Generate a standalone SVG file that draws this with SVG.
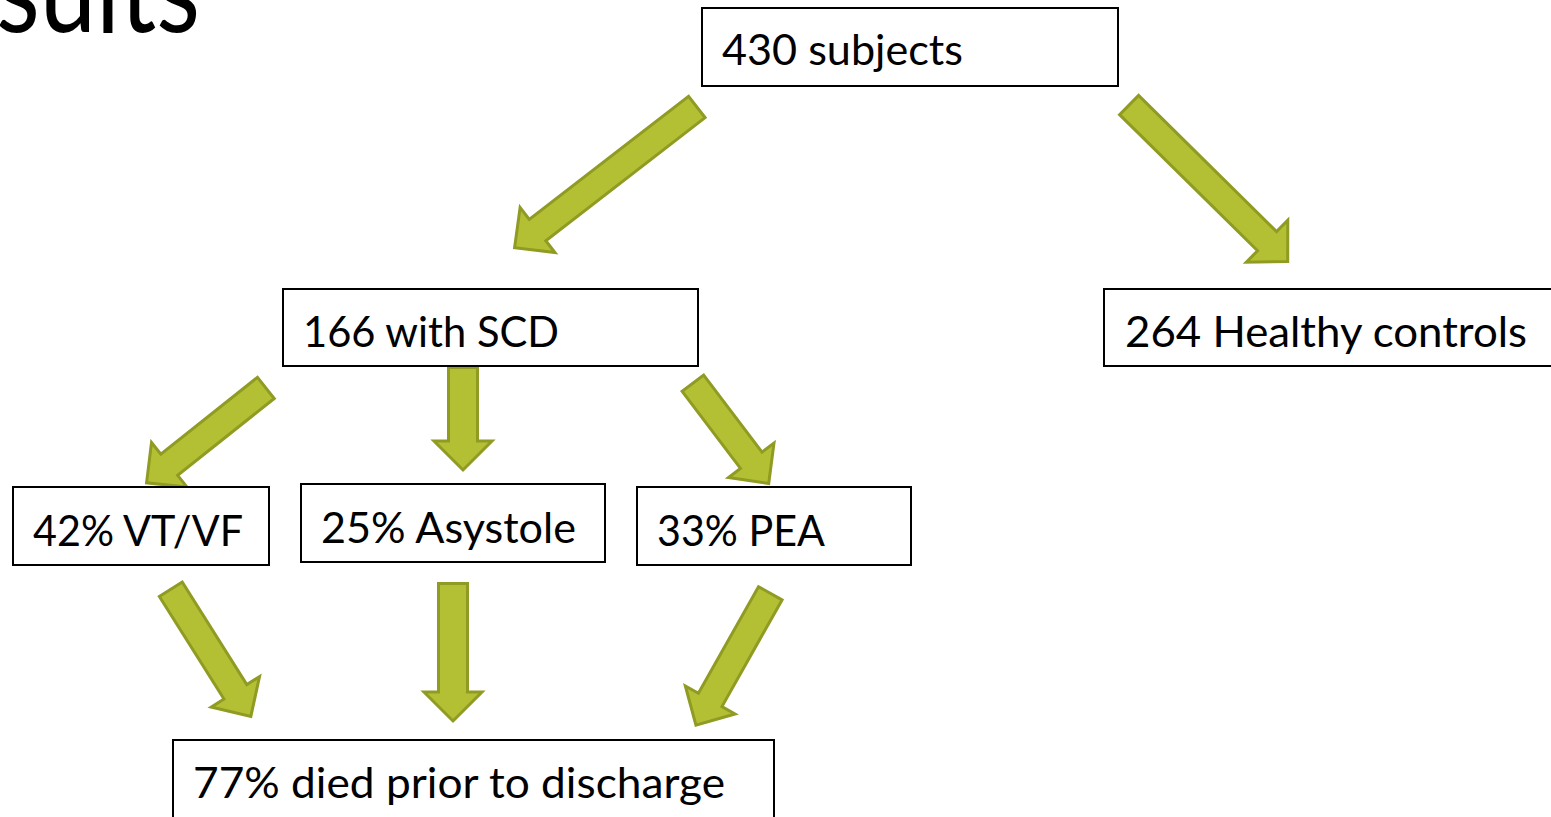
<svg xmlns="http://www.w3.org/2000/svg" width="1551" height="817" viewBox="0 0 1551 817">
<style>
.box{fill:#fff;stroke:#000;stroke-width:2}
.lbl{font-family:Lato,"Liberation Sans",sans-serif;font-size:43px;fill:#000}
.title{font-family:Lato,"Liberation Sans",sans-serif;font-size:120px;fill:#000}
.arr{fill:#b4c034;stroke:#8f9b22;stroke-width:3;stroke-linejoin:miter}
</style>
<rect width="1551" height="817" fill="#fff"/>
<text class="title" x="-4" y="32" textLength="204" lengthAdjust="spacingAndGlyphs">sults</text>
<g id="connectors">
<path class="arr" transform="translate(698,106) rotate(142.3)" d="M1.5,-13.5 H202.8 V-28.5 L231.8,0 L202.8,28.5 V13.5 H1.5 Z"/>
<path class="arr" transform="translate(1128,104) rotate(44.6)" d="M1.5,-13.5 H195.3 V-29.5 L224.3,0 L195.3,29.5 V13.5 H1.5 Z"/>
<path class="arr" transform="translate(267,387) rotate(141.5)" d="M1.5,-13.5 H124.9 V-28.5 L153.9,0 L124.9,28.5 V13.5 H1.5 Z"/>
<path class="arr" transform="translate(463,366) rotate(90)" d="M1.5,-14.5 H75 V-29 L104,0 L75,29 V14.5 H1.5 Z"/>
<path class="arr" transform="translate(692,382) rotate(52.9)" d="M1.5,-13.5 H98.2 V-28.5 L127.2,0 L98.2,28.5 V13.5 H1.5 Z"/>
<path class="arr" transform="translate(170,588) rotate(57.8)" d="M1.5,-13.5 H122.7 V-28.5 L151.7,0 L122.7,28.5 V13.5 H1.5 Z"/>
<path class="arr" transform="translate(453,582) rotate(90)" d="M1.5,-14.5 H110 V-29 L139,0 L110,29 V14.5 H1.5 Z"/>
<path class="arr" transform="translate(771,592) rotate(119.4)" d="M1.5,-13.5 H123.9 V-28.5 L152.9,0 L123.9,28.5 V13.5 H1.5 Z"/>
</g>
<g id="n430">
<rect class="box" x="702" y="8" width="416" height="78"/>
<text class="lbl" x="722" y="65" textLength="241" lengthAdjust="spacingAndGlyphs">430 subjects</text>
</g>
<g id="n166">
<rect class="box" x="283" y="289" width="415" height="77"/>
<text class="lbl" x="303" y="347" textLength="256" lengthAdjust="spacingAndGlyphs">166 with SCD</text>
</g>
<g id="n264">
<rect class="box" x="1104" y="289" width="452" height="77"/>
<text class="lbl" x="1125" y="347" textLength="402" lengthAdjust="spacingAndGlyphs">264 Healthy controls</text>
</g>
<g id="nvt">
<rect class="box" x="13" y="487" width="256" height="78"/>
<text class="lbl" x="33" y="546" textLength="210" lengthAdjust="spacingAndGlyphs">42% VT/VF</text>
</g>
<g id="nasy">
<rect class="box" x="301" y="484" width="304" height="78"/>
<text class="lbl" x="321" y="543" textLength="255" lengthAdjust="spacingAndGlyphs">25% Asystole</text>
</g>
<g id="npea">
<rect class="box" x="637" y="487" width="274" height="78"/>
<text class="lbl" x="657" y="546" textLength="168" lengthAdjust="spacingAndGlyphs">33% PEA</text>
</g>
<g id="ndied">
<rect class="box" x="173" y="740" width="601" height="90"/>
<text class="lbl" x="193" y="798" textLength="532" lengthAdjust="spacingAndGlyphs">77% died prior to discharge</text>
</g>
</svg>
